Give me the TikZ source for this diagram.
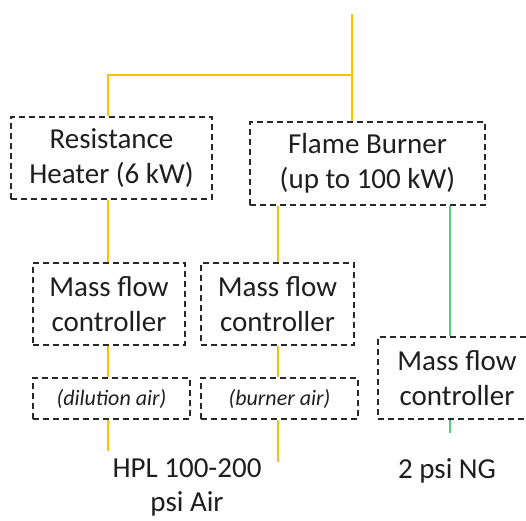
\documentclass[tikz,border=0pt]{standalone}
\usepackage{fontspec}
\setmainfont{Carlito}
\usetikzlibrary{calc}
\definecolor{pipeair}{RGB}{255,192,0}
\definecolor{pipegas}{RGB}{80,205,125}
\definecolor{txt}{RGB}{30,30,30}
\definecolor{boxline}{RGB}{40,40,40}
\tikzset{
  unitbox/.style={draw=boxline, line width=1.7pt, dash pattern=on 6pt off 4pt,
    rectangle, align=center, text=txt, inner sep=0pt,
    font=\fontsize{29}{35}\selectfont},
  notebox/.style={unitbox, font=\fontsize{22}{26}\selectfont\itshape},
  airline/.style={draw=pipeair, line width=2pt},
  gasline/.style={draw=pipegas, line width=2pt},
  label/.style={align=center, text=txt, inner sep=0pt, font=\fontsize{29}{34}\selectfont}
}
\begin{document}
\begin{tikzpicture}[x=1pt,y=-1pt]
\clip (0,0) rectangle (526,520);
\node[unitbox, minimum width=201pt, minimum height=82pt] (rh) at (111.5,158) {Resistance\\Heater (6 kW)};
\node[unitbox, minimum width=235pt, minimum height=83pt] (fb) at (367.5,163.5) {Flame Burner\\(up to 100 kW)};
\node[unitbox, minimum width=152pt, minimum height=82pt] (m1) at (109,304) {Mass flow\\controller};
\node[unitbox, minimum width=153pt, minimum height=82pt] (m2) at (277.5,304) {Mass flow\\controller};
\node[unitbox, minimum width=158pt, minimum height=82pt] (m3) at (457,378) {Mass flow\\controller};
\node[notebox, minimum width=157pt, minimum height=41pt] (d1) at (111.5,398.5) {(dilution air)};
\node[notebox, minimum width=157pt, minimum height=41pt] (b1) at (279.5,398.5) {(burner air)};
\node[label] (hpl) at (187,487) {HPL 100-200\\psi Air};
\node[label] (ng) at (447,471) {2 psi NG};
% helper coordinates
\coordinate (src) at (352,14);
\coordinate (split) at (352,75);
\coordinate (lx) at (108,0);
\coordinate (rx) at (278,0);
\coordinate (gx) at (450,0);
\coordinate (d1end) at (108,451);
\coordinate (b1end) at (278,462);
\coordinate (m3end) at (450,433);
% air lines
\draw[airline] (src) -- (split |- fb.north);
\draw[airline] (split) -- (lx |- split) -- (lx |- rh.north);
\draw[airline] (lx |- rh.south) -- (lx |- m1.north);
\draw[airline] (rx |- fb.south) -- (rx |- m2.north);
\draw[airline] (lx |- m1.south) -- (lx |- d1.north);
\draw[airline] (rx |- m2.south) -- (rx |- b1.north);
\draw[airline] (lx |- d1.south) -- (d1end);
\draw[airline] (rx |- b1.south) -- (b1end);
% gas lines
\draw[gasline] (gx |- fb.south) -- (gx |- m3.north);
\draw[gasline] (gx |- m3.south) -- (m3end);
\end{tikzpicture}
\end{document}
